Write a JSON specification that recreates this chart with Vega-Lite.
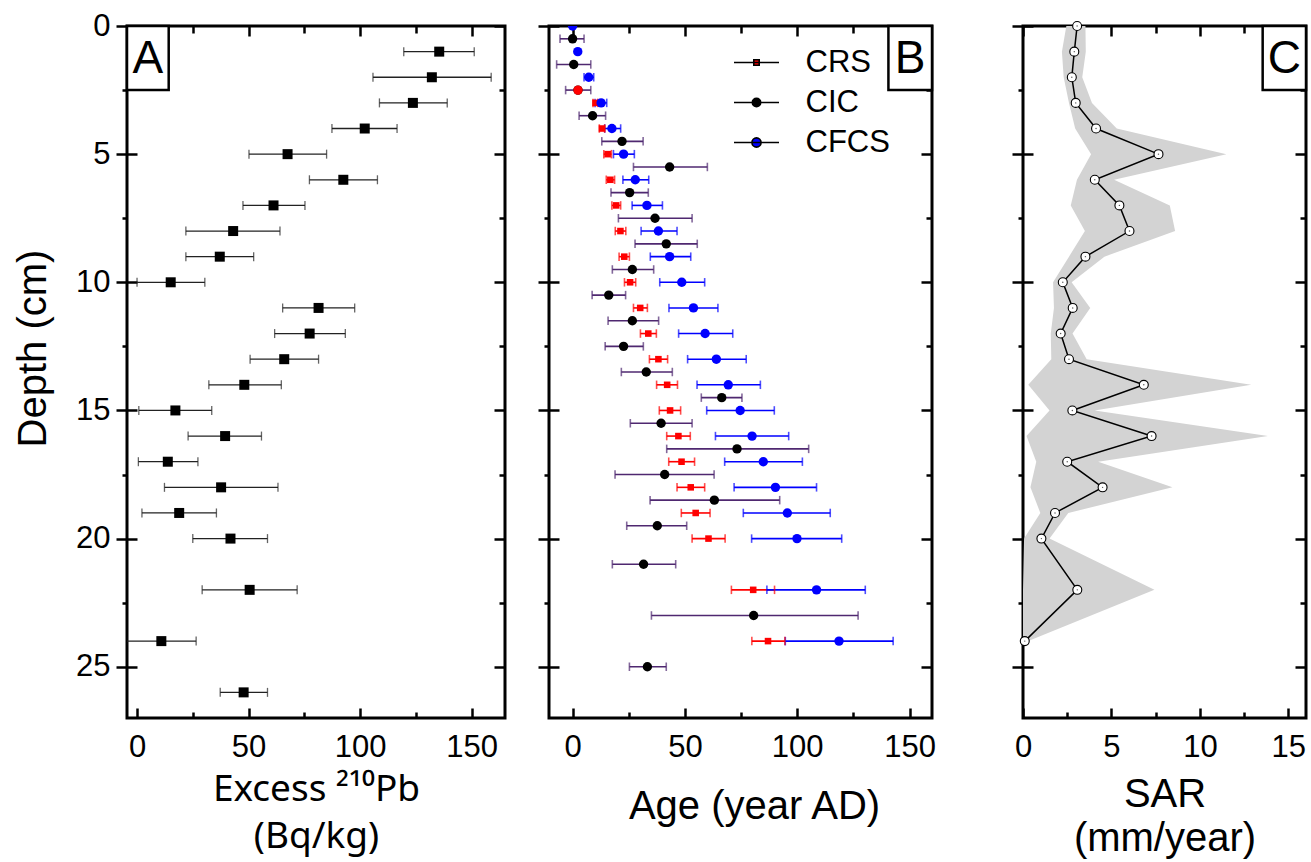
{
  "$schema": "https://vega.github.io/schema/vega-lite/v6.json",
  "padding": {"left": 12, "top": 8, "right": 2, "bottom": 0},
  "datasets": {
    "pb": [
      {"depth": 1, "pb": 135.5, "lo": 119.6, "hi": 151.2},
      {"depth": 2, "pb": 132.2, "lo": 105.8, "hi": 158.8},
      {"depth": 3, "pb": 123.7, "lo": 108.7, "hi": 139.1},
      {"depth": 4, "pb": 102.1, "lo": 87.4, "hi": 116.6},
      {"depth": 5, "pb": 67.5, "lo": 50.2, "hi": 85.0},
      {"depth": 6, "pb": 92.5, "lo": 77.3, "hi": 107.8},
      {"depth": 7, "pb": 61.2, "lo": 47.5, "hi": 75.3},
      {"depth": 8, "pb": 43.1, "lo": 21.9, "hi": 64.1},
      {"depth": 9, "pb": 37.1, "lo": 21.9, "hi": 52.3},
      {"depth": 10, "pb": 15.1, "lo": 0.0, "hi": 30.4},
      {"depth": 11, "pb": 81.4, "lo": 65.3, "hi": 97.6},
      {"depth": 12, "pb": 77.4, "lo": 61.7, "hi": 93.4},
      {"depth": 13, "pb": 66.0, "lo": 50.7, "hi": 81.4},
      {"depth": 14, "pb": 48.1, "lo": 32.2, "hi": 64.7},
      {"depth": 15, "pb": 17.2, "lo": 0.8, "hi": 33.5},
      {"depth": 16, "pb": 39.5, "lo": 22.9, "hi": 55.8},
      {"depth": 17, "pb": 13.8, "lo": 0.6, "hi": 27.3},
      {"depth": 18, "pb": 37.7, "lo": 12.3, "hi": 63.2},
      {"depth": 19, "pb": 18.9, "lo": 2.2, "hi": 35.6},
      {"depth": 20, "pb": 41.9, "lo": 25.0, "hi": 58.5},
      {"depth": 22, "pb": 50.5, "lo": 29.2, "hi": 71.8},
      {"depth": 24, "pb": 10.9, "lo": -4.7, "hi": 26.5},
      {"depth": 26, "pb": 47.8, "lo": 37.3, "hi": 58.5}
    ],
    "age": [
      {"series": "CRS", "depth": 3, "age": 10.2, "lo": 9.1, "hi": 11.2},
      {"series": "CRS", "depth": 4, "age": 13.1, "lo": 11.9, "hi": 14.3},
      {"series": "CRS", "depth": 5, "age": 15.6, "lo": 13.9, "hi": 17.3},
      {"series": "CRS", "depth": 6, "age": 16.8, "lo": 15.0, "hi": 18.7},
      {"series": "CRS", "depth": 7, "age": 19.4, "lo": 17.5, "hi": 21.4},
      {"series": "CRS", "depth": 8, "age": 21.3, "lo": 19.0, "hi": 23.7},
      {"series": "CRS", "depth": 9, "age": 23.0, "lo": 20.7, "hi": 25.3},
      {"series": "CRS", "depth": 10, "age": 25.6, "lo": 23.1, "hi": 28.1},
      {"series": "CRS", "depth": 11, "age": 30.1, "lo": 27.1, "hi": 33.3},
      {"series": "CRS", "depth": 12, "age": 33.7, "lo": 30.2, "hi": 37.3},
      {"series": "CRS", "depth": 13, "age": 38.2, "lo": 34.2, "hi": 42.3},
      {"series": "CRS", "depth": 14, "age": 42.1, "lo": 37.4, "hi": 46.7},
      {"series": "CRS", "depth": 15, "age": 43.4, "lo": 38.6, "hi": 48.1},
      {"series": "CRS", "depth": 16, "age": 47.1, "lo": 41.9, "hi": 52.4},
      {"series": "CRS", "depth": 17, "age": 48.5, "lo": 42.8, "hi": 54.3},
      {"series": "CRS", "depth": 18, "age": 52.6, "lo": 46.5, "hi": 58.8},
      {"series": "CRS", "depth": 19, "age": 54.8, "lo": 48.4, "hi": 61.2},
      {"series": "CRS", "depth": 20, "age": 60.5, "lo": 53.2, "hi": 67.9},
      {"series": "CRS", "depth": 22, "age": 80.4, "lo": 70.7, "hi": 89.9},
      {"series": "CRS", "depth": 24, "age": 87.0, "lo": 79.8, "hi": 94.5},
      {"series": "CIC", "depth": 0.5, "age": 0.0, "lo": -5.6, "hi": 5.1},
      {"series": "CIC", "depth": 1.5, "age": 0.5, "lo": -7.1, "hi": 8.1},
      {"series": "CIC", "depth": 2.5, "age": 2.4, "lo": -3.1, "hi": 8.1},
      {"series": "CIC", "depth": 3.5, "age": 8.9, "lo": 2.9, "hi": 14.7},
      {"series": "CIC", "depth": 4.5, "age": 22.0, "lo": 13.0, "hi": 31.4},
      {"series": "CIC", "depth": 5.5, "age": 43.2, "lo": 27.1, "hi": 60.0},
      {"series": "CIC", "depth": 6.5, "age": 25.4, "lo": 17.1, "hi": 33.7},
      {"series": "CIC", "depth": 7.5, "age": 36.7, "lo": 20.4, "hi": 53.2},
      {"series": "CIC", "depth": 8.5, "age": 41.7, "lo": 27.8, "hi": 55.5},
      {"series": "CIC", "depth": 9.5, "age": 26.6, "lo": 17.7, "hi": 36.1},
      {"series": "CIC", "depth": 10.5, "age": 16.1, "lo": 8.7, "hi": 23.6},
      {"series": "CIC", "depth": 11.5, "age": 26.6, "lo": 15.8, "hi": 38.3},
      {"series": "CIC", "depth": 12.5, "age": 22.7, "lo": 14.5, "hi": 31.5},
      {"series": "CIC", "depth": 13.5, "age": 32.8, "lo": 21.7, "hi": 44.4},
      {"series": "CIC", "depth": 14.5, "age": 66.4, "lo": 57.3, "hi": 75.4},
      {"series": "CIC", "depth": 15.5, "age": 39.4, "lo": 25.7, "hi": 53.2},
      {"series": "CIC", "depth": 16.5, "age": 73.2, "lo": 41.9, "hi": 105.1},
      {"series": "CIC", "depth": 17.5, "age": 41.0, "lo": 18.9, "hi": 63.0},
      {"series": "CIC", "depth": 18.5, "age": 63.1, "lo": 34.5, "hi": 92.2},
      {"series": "CIC", "depth": 19.5, "age": 37.7, "lo": 24.1, "hi": 50.8},
      {"series": "CIC", "depth": 21, "age": 31.6, "lo": 17.7, "hi": 45.9},
      {"series": "CIC", "depth": 23, "age": 80.6, "lo": 35.1, "hi": 127.1},
      {"series": "CIC", "depth": 25, "age": 33.3, "lo": 25.3, "hi": 41.7},
      {"series": "CFCS", "depth": 0, "age": 0.0, "lo": null, "hi": null},
      {"series": "CFCS", "depth": 1, "age": 2.3, "lo": null, "hi": null},
      {"series": "CFCS", "depth": 2, "age": 7.2, "lo": 5.1, "hi": 9.4},
      {"series": "CFCS", "depth": 3, "age": 12.7, "lo": 10.0, "hi": 15.2},
      {"series": "CFCS", "depth": 4, "age": 17.5, "lo": 14.3, "hi": 21.4},
      {"series": "CFCS", "depth": 5, "age": 22.7, "lo": 18.2, "hi": 27.5},
      {"series": "CFCS", "depth": 6, "age": 27.9, "lo": 22.4, "hi": 33.9},
      {"series": "CFCS", "depth": 7, "age": 33.1, "lo": 26.5, "hi": 40.0},
      {"series": "CFCS", "depth": 8, "age": 38.2, "lo": 30.5, "hi": 46.5},
      {"series": "CFCS", "depth": 9, "age": 43.2, "lo": 34.6, "hi": 52.6},
      {"series": "CFCS", "depth": 10, "age": 48.6, "lo": 38.8, "hi": 58.8},
      {"series": "CFCS", "depth": 11, "age": 53.8, "lo": 42.9, "hi": 64.7},
      {"series": "CFCS", "depth": 12, "age": 59.0, "lo": 47.2, "hi": 71.3},
      {"series": "CFCS", "depth": 13, "age": 64.0, "lo": 51.2, "hi": 77.3},
      {"series": "CFCS", "depth": 14, "age": 69.3, "lo": 55.4, "hi": 83.6},
      {"series": "CFCS", "depth": 15, "age": 74.6, "lo": 59.7, "hi": 89.8},
      {"series": "CFCS", "depth": 16, "age": 79.9, "lo": 63.6, "hi": 96.2},
      {"series": "CFCS", "depth": 17, "age": 84.9, "lo": 67.7, "hi": 102.3},
      {"series": "CFCS", "depth": 18, "age": 90.3, "lo": 71.9, "hi": 108.6},
      {"series": "CFCS", "depth": 19, "age": 95.6, "lo": 76.0, "hi": 114.7},
      {"series": "CFCS", "depth": 20, "age": 99.9, "lo": 79.7, "hi": 119.8},
      {"series": "CFCS", "depth": 22, "age": 108.6, "lo": 86.5, "hi": 130.3},
      {"series": "CFCS", "depth": 24, "age": 118.6, "lo": 94.7, "hi": 142.7}
    ],
    "sar": [
      {"depth": 0, "sar": 3.06, "lo": 2.45, "hi": 3.53},
      {"depth": 1, "sar": 2.9, "lo": 2.2, "hi": 3.55},
      {"depth": 2, "sar": 2.76, "lo": 2.3, "hi": 3.35},
      {"depth": 3, "sar": 2.98, "lo": 2.6, "hi": 3.9},
      {"depth": 4, "sar": 4.13, "lo": 2.95, "hi": 5.3},
      {"depth": 5, "sar": 7.66, "lo": 3.85, "hi": 11.5},
      {"depth": 6, "sar": 4.06, "lo": 3.05, "hi": 5.15},
      {"depth": 7, "sar": 5.45, "lo": 2.7, "hi": 8.3},
      {"depth": 8, "sar": 6.02, "lo": 3.5, "hi": 8.6},
      {"depth": 9, "sar": 3.53, "lo": 2.6, "hi": 4.6},
      {"depth": 10, "sar": 2.25, "lo": 1.7, "hi": 2.75},
      {"depth": 11, "sar": 2.81, "lo": 1.75, "hi": 3.8},
      {"depth": 12, "sar": 2.13, "lo": 1.57, "hi": 2.8},
      {"depth": 13, "sar": 2.6, "lo": 1.6, "hi": 3.6},
      {"depth": 14, "sar": 6.83, "lo": 0.3, "hi": 12.9},
      {"depth": 15, "sar": 2.79, "lo": 1.5, "hi": 4.05},
      {"depth": 16, "sar": 7.27, "lo": 0.2, "hi": 13.85},
      {"depth": 17, "sar": 2.5, "lo": 0.75, "hi": 4.25},
      {"depth": 18, "sar": 4.5, "lo": 0.42, "hi": 8.45},
      {"depth": 19, "sar": 1.81, "lo": 0.98, "hi": 2.56},
      {"depth": 20, "sar": 1.04, "lo": 0.06, "hi": 1.5},
      {"depth": 22, "sar": 3.07, "lo": 0.0, "hi": 7.43},
      {"depth": 24, "sar": 0.1, "lo": 0.0, "hi": 0.3}
    ]
  },
  "spacing": 72,
  "hconcat": [
    {
      "spacing": 27,
      "hconcat": [
        {
          "width": 378,
          "height": 692,
          "data": {"name": "pb"},
          "resolve": {"axis": {"x": "independent", "y": "independent"}},
          "layer": [
            {
              "mark": {"type": "rule", "color": "#222222", "strokeWidth": 1.3, "clip": true},
              "encoding": {
                "x": {"field": "lo", "type": "quantitative", "scale": {"domain": [-4.5, 165], "nice": false, "zero": false},
                  "axis": {"orient": "bottom", "values": [0, 50, 100, 150], "tickSize": -10, "labelPadding": 24, "title": ["Excess ²¹⁰Pb", "(Bq/kg)"], "titleFont": "Noto Sans", "titleFontSize": 37, "titlePadding": 9, "titleLineHeight": 47}},
                "x2": {"field": "hi"},
                "y": {"field": "depth", "type": "quantitative", "scale": {"domain": [0, 27], "reverse": true, "nice": false, "zero": false},
                  "axis": {"orient": "left", "values": [0, 5, 10, 15, 20, 25], "tickSize": 11, "labelPadding": 6, "title": "Depth (cm)", "titlePadding": 22, "titleY": 322}}
              }
            },
            {
              "mark": {"type": "tick", "orient": "vertical", "color": "#222222", "size": 9, "thickness": 1.3, "clip": true},
              "encoding": {
                "x": {"field": "lo", "type": "quantitative", "scale": {"domain": [-4.5, 165], "nice": false, "zero": false},
                  "axis": {"orient": "bottom", "values": [25, 75, 125], "tickSize": -6, "labels": false, "title": null}},
                "y": {"field": "depth", "type": "quantitative", "scale": {"domain": [0, 27], "reverse": true, "nice": false, "zero": false},
                  "axis": {"orient": "left", "values": [0, 5, 10, 15, 20, 25], "tickSize": -10, "labels": false, "title": null}}
              }
            },
            {
              "mark": {"type": "tick", "orient": "vertical", "color": "#222222", "size": 9, "thickness": 1.3},
              "encoding": {
                "x": {"field": "hi", "type": "quantitative", "scale": {"domain": [-4.5, 165], "nice": false, "zero": false},
                  "axis": {"orient": "top", "values": [0, 50, 100, 150], "tickSize": -10, "labels": false, "title": null}},
                "y": {"field": "depth", "type": "quantitative", "scale": {"domain": [0, 27], "reverse": true, "nice": false, "zero": false},
                  "axis": {"orient": "left", "values": [2.5, 7.5, 12.5, 17.5, 22.5], "tickSize": 5, "labels": false, "title": null}}
              }
            },
            {
              "mark": {"type": "point", "shape": "square", "filled": true, "color": "black", "size": 100, "opacity": 1},
              "encoding": {
                "x": {"field": "pb", "type": "quantitative", "scale": {"domain": [-4.5, 165], "nice": false, "zero": false},
                  "axis": {"orient": "top", "values": [25, 75, 125], "tickSize": -7, "labels": false, "title": null}},
                "y": {"field": "depth", "type": "quantitative", "scale": {"domain": [0, 27], "reverse": true, "nice": false, "zero": false},
                  "axis": {"orient": "right", "values": [0, 5, 10, 15, 20, 25], "tickSize": -11, "labels": false, "title": null}}
              }
            },
            {
              "data": {"values": [{}]},
              "mark": {"type": "rect", "fill": "white", "stroke": "black", "strokeWidth": 2.5},
              "encoding": {
                "x": {"datum": -4.5, "type": "quantitative", "scale": {"domain": [-4.5, 165], "nice": false, "zero": false}, "axis": null},
                "x2": {"datum": 14.2},
                "y": {"datum": 0, "type": "quantitative", "scale": {"domain": [0, 27], "reverse": true, "nice": false, "zero": false},
                  "axis": {"orient": "right", "values": [2.5, 7.5, 12.5, 17.5, 22.5], "tickSize": -6, "labels": false, "title": null}},
                "y2": {"datum": 2.5}
              }
            },
            {
              "data": {"values": [{}]},
              "mark": {"type": "text", "text": "A", "font": "Liberation Sans", "fontSize": 46, "color": "black", "align": "center", "baseline": "middle"},
              "encoding": {
                "x": {"datum": 4.85, "type": "quantitative", "scale": {"domain": [-4.5, 165], "nice": false, "zero": false}, "axis": null},
                "y": {"datum": 1.3, "type": "quantitative", "scale": {"domain": [0, 27], "reverse": true, "nice": false, "zero": false}, "axis": null}
              }
            }
          ]
        },
        {
          "width": 383,
          "height": 692,
          "data": {"name": "age"},
          "resolve": {"axis": {"x": "independent", "y": "independent"}},
          "layer": [
            {
              "mark": {"type": "rule", "strokeWidth": 1.6, "clip": true},
              "encoding": {
                "x": {"field": "lo", "type": "quantitative", "scale": {"domain": [-10.5, 160], "nice": false, "zero": false},
                  "axis": {"orient": "bottom", "values": [0, 50, 100, 150], "tickSize": -10, "labelPadding": 24, "title": "Age (year AD)", "titlePadding": 24, "titleX": 205}},
                "x2": {"field": "hi"},
                "y": {"field": "depth", "type": "quantitative", "scale": {"domain": [0, 27], "reverse": true, "nice": false, "zero": false},
                  "axis": {"orient": "left", "values": [0, 5, 10, 15, 20, 25], "tickSize": 11, "labels": false, "title": null}},
                "color": {"field": "series", "type": "nominal",
                  "scale": {"domain": ["CFCS", "CIC", "CRS"], "range": ["#0000ff", "#4f2870", "#ff0000"]}, "legend": null}
              }
            },
            {
              "mark": {"type": "tick", "orient": "vertical", "size": 8.5, "thickness": 1.6},
              "encoding": {
                "x": {"field": "lo", "type": "quantitative", "scale": {"domain": [-10.5, 160], "nice": false, "zero": false},
                  "axis": {"orient": "bottom", "values": [25, 75, 125], "tickSize": -6, "labels": false, "title": null}},
                "y": {"field": "depth", "type": "quantitative", "scale": {"domain": [0, 27], "reverse": true, "nice": false, "zero": false},
                  "axis": {"orient": "left", "values": [0, 5, 10, 15, 20, 25], "tickSize": -10, "labels": false, "title": null}},
                "color": {"field": "series", "type": "nominal", "scale": {"domain": ["CFCS", "CIC", "CRS"], "range": ["#0000ff", "#4f2870", "#ff0000"]}, "legend": null}
              }
            },
            {
              "mark": {"type": "tick", "orient": "vertical", "size": 8.5, "thickness": 1.6},
              "encoding": {
                "x": {"field": "hi", "type": "quantitative", "scale": {"domain": [-10.5, 160], "nice": false, "zero": false},
                  "axis": {"orient": "top", "values": [0, 50, 100, 150], "tickSize": -10, "labels": false, "title": null}},
                "y": {"field": "depth", "type": "quantitative", "scale": {"domain": [0, 27], "reverse": true, "nice": false, "zero": false},
                  "axis": {"orient": "left", "values": [2.5, 7.5, 12.5, 17.5, 22.5], "tickSize": 5, "labels": false, "title": null}},
                "color": {"field": "series", "type": "nominal", "scale": {"domain": ["CFCS", "CIC", "CRS"], "range": ["#0000ff", "#4f2870", "#ff0000"]}, "legend": null}
              }
            },
            {
              "mark": {"type": "point", "filled": true, "opacity": 1, "size": 88, "clip": true},
              "encoding": {
                "x": {"field": "age", "type": "quantitative", "scale": {"domain": [-10.5, 160], "nice": false, "zero": false},
                  "axis": {"orient": "top", "values": [25, 75, 125], "tickSize": -7, "labels": false, "title": null}},
                "y": {"field": "depth", "type": "quantitative", "scale": {"domain": [0, 27], "reverse": true, "nice": false, "zero": false},
                  "axis": {"orient": "right", "values": [0, 5, 10, 15, 20, 25], "tickSize": -11, "labels": false, "title": null}},
                "fill": {"field": "series", "type": "nominal",
                  "scale": {"domain": ["CRS", "CIC", "CFCS"], "range": ["#ff0000", "#000000", "#0000ff"]}},
                "shape": {"condition": {"test": "datum.series === 'CRS'", "value": "M-0.7,-0.7H0.7V0.7H-0.7Z"}, "value": "circle"}
              }
            },
            {
              "transform": [{"filter": "datum.series === 'CIC' && datum.depth === 2.5"}],
              "mark": {"type": "point", "shape": "circle", "filled": true, "color": "#ff0000", "opacity": 1, "size": 88},
              "encoding": {
                "x": {"field": "age", "type": "quantitative", "scale": {"domain": [-10.5, 160], "nice": false, "zero": false}, "axis": null},
                "y": {"field": "depth", "type": "quantitative", "scale": {"domain": [0, 27], "reverse": true, "nice": false, "zero": false},
                  "axis": {"orient": "right", "values": [2.5, 7.5, 12.5, 17.5, 22.5], "tickSize": -6, "labels": false, "title": null}}
              }
            },
            {
              "mark": {"type": "point", "filled": true, "opacity": 0, "size": 1},
              "encoding": {
                "x": {"field": "age", "type": "quantitative", "scale": {"domain": [-10.5, 160], "nice": false, "zero": false}, "axis": null},
                "y": {"field": "depth", "type": "quantitative", "scale": {"domain": [0, 27], "reverse": true, "nice": false, "zero": false}, "axis": null},
                "fill": {"field": "series", "type": "nominal",
                  "scale": {"domain": ["CRS", "CIC", "CFCS"], "range": ["#ff0000", "#000000", "#0000ff"]},
                  "legend": {"orient": "none", "legendX": 614, "legendY": 21, "title": null, "padding": 0,
                    "symbolSize": 400, "symbolStrokeColor": "black", "symbolStrokeWidth": 1.6, "symbolOpacity": 1,
                    "labelFont": "Liberation Sans", "labelFontSize": 31, "labelColor": "black", "labelOffset": 33.5, "rowPadding": 8}},
                "shape": {"field": "series", "type": "nominal",
                  "scale": {"domain": ["CRS", "CIC", "CFCS"], "range": [
                    "M-2.25,0H2.25M-0.27,-0.27H0.27V0.27H-0.27Z",
                    "M-2.25,0H2.25M-0.42,0A0.42,0.42,0,1,0,0.42,0A0.42,0.42,0,1,0,-0.42,0Z",
                    "M-2.25,0H2.25M-0.46,0A0.46,0.46,0,1,0,0.46,0A0.46,0.46,0,1,0,-0.46,0Z"]},
                  "legend": {"orient": "none", "legendX": 614, "legendY": 21, "title": null, "padding": 0,
                    "symbolSize": 400, "symbolStrokeColor": "black", "symbolStrokeWidth": 1.6, "symbolOpacity": 1,
                    "labelFont": "Liberation Sans", "labelFontSize": 31, "labelColor": "black", "labelOffset": 33.5, "rowPadding": 8}}
              }
            },
            {
              "data": {"values": [{}]},
              "mark": {"type": "rect", "fill": "white", "stroke": "black", "strokeWidth": 2.5},
              "encoding": {
                "x": {"datum": 140.6, "type": "quantitative", "scale": {"domain": [-10.5, 160], "nice": false, "zero": false}, "axis": null},
                "x2": {"datum": 160},
                "y": {"datum": 0, "type": "quantitative", "scale": {"domain": [0, 27], "reverse": true, "nice": false, "zero": false}, "axis": null},
                "y2": {"datum": 2.5}
              }
            },
            {
              "data": {"values": [{}]},
              "mark": {"type": "text", "text": "B", "font": "Liberation Sans", "fontSize": 46, "color": "black", "align": "center", "baseline": "middle"},
              "encoding": {
                "x": {"datum": 150.3, "type": "quantitative", "scale": {"domain": [-10.5, 160], "nice": false, "zero": false}, "axis": null},
                "y": {"datum": 1.3, "type": "quantitative", "scale": {"domain": [0, 27], "reverse": true, "nice": false, "zero": false}, "axis": null}
              }
            }
          ]
        }
      ]
    },
    {
      "width": 283,
      "height": 692,
      "data": {"name": "sar"},
      "resolve": {"axis": {"x": "independent", "y": "independent"}},
      "layer": [
        {
          "mark": {"type": "area", "orient": "horizontal", "color": "#d3d3d3", "opacity": 1},
          "encoding": {
            "x": {"field": "lo", "type": "quantitative", "scale": {"domain": [0, 16], "nice": false, "zero": false},
              "axis": {"orient": "bottom", "values": [0, 5, 10, 15], "tickSize": -10, "labelPadding": 24, "title": ["SAR", "(mm/year)"], "titlePadding": 12, "titleLineHeight": 44}},
            "x2": {"field": "hi"},
            "y": {"field": "depth", "type": "quantitative", "scale": {"domain": [0, 27], "reverse": true, "nice": false, "zero": false},
              "axis": {"orient": "left", "values": [0, 5, 10, 15, 20, 25], "tickSize": 11, "labels": false, "title": null}}
          }
        },
        {
          "mark": {"type": "line", "color": "black", "strokeWidth": 1.5},
          "encoding": {
            "x": {"field": "sar", "type": "quantitative", "scale": {"domain": [0, 16], "nice": false, "zero": false},
              "axis": {"orient": "bottom", "values": [2.5, 7.5, 12.5], "tickSize": -6, "labels": false, "title": null}},
            "y": {"field": "depth", "type": "quantitative", "scale": {"domain": [0, 27], "reverse": true, "nice": false, "zero": false},
              "axis": {"orient": "left", "values": [0, 5, 10, 15, 20, 25], "tickSize": -10, "labels": false, "title": null}},
            "order": {"field": "depth", "type": "quantitative"}
          }
        },
        {
          "mark": {"type": "point", "shape": "circle", "filled": true, "fill": "white", "stroke": "black", "strokeWidth": 1.1, "size": 80, "opacity": 1},
          "encoding": {
            "x": {"field": "sar", "type": "quantitative", "scale": {"domain": [0, 16], "nice": false, "zero": false},
              "axis": {"orient": "top", "values": [0, 5, 10, 15], "tickSize": -10, "labels": false, "title": null}},
            "y": {"field": "depth", "type": "quantitative", "scale": {"domain": [0, 27], "reverse": true, "nice": false, "zero": false},
              "axis": {"orient": "left", "values": [2.5, 7.5, 12.5, 17.5, 22.5], "tickSize": 5, "labels": false, "title": null}}
          }
        },
        {
          "mark": {"type": "point", "shape": "circle", "filled": true, "color": "#555555", "size": 2, "opacity": 1},
          "encoding": {
            "x": {"field": "sar", "type": "quantitative", "scale": {"domain": [0, 16], "nice": false, "zero": false},
              "axis": {"orient": "top", "values": [2.5, 7.5, 12.5], "tickSize": -7, "labels": false, "title": null}},
            "y": {"field": "depth", "type": "quantitative", "scale": {"domain": [0, 27], "reverse": true, "nice": false, "zero": false},
              "axis": {"orient": "right", "values": [0, 5, 10, 15, 20, 25], "tickSize": -11, "labels": false, "title": null}}
          }
        },
        {
          "data": {"values": [{}]},
          "mark": {"type": "rect", "fill": "white", "stroke": "black", "strokeWidth": 2.5},
          "encoding": {
            "x": {"datum": 13.55, "type": "quantitative", "scale": {"domain": [0, 16], "nice": false, "zero": false}, "axis": null},
            "x2": {"datum": 16},
            "y": {"datum": 0, "type": "quantitative", "scale": {"domain": [0, 27], "reverse": true, "nice": false, "zero": false},
              "axis": {"orient": "right", "values": [2.5, 7.5, 12.5, 17.5, 22.5], "tickSize": -6, "labels": false, "title": null}},
            "y2": {"datum": 2.5}
          }
        },
        {
          "data": {"values": [{}]},
          "mark": {"type": "text", "text": "C", "font": "Liberation Sans", "fontSize": 46, "color": "black", "align": "center", "baseline": "middle"},
          "encoding": {
            "x": {"datum": 14.78, "type": "quantitative", "scale": {"domain": [0, 16], "nice": false, "zero": false}, "axis": null},
            "y": {"datum": 1.3, "type": "quantitative", "scale": {"domain": [0, 27], "reverse": true, "nice": false, "zero": false}, "axis": null}
          }
        }
      ]
    }
  ],
  "config": {
    "background": "white",
    "font": "Liberation Sans",
    "view": {"stroke": "black", "strokeWidth": 3},
    "axis": {
      "grid": false,
      "domain": false,
      "ticks": true,
      "tickColor": "black",
      "tickWidth": 2.5,
      "labelFont": "Liberation Sans",
      "labelFontSize": 31,
      "labelColor": "black",
      "labelFlush": false,
      "labelOverlap": false,
      "titleFont": "Liberation Sans",
      "titleFontSize": 40,
      "titleFontWeight": "normal",
      "titleColor": "black"
    }
  }
}
